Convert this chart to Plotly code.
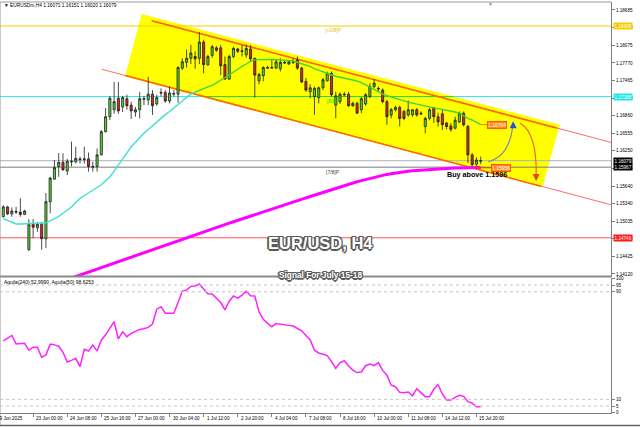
import plotly.graph_objects as go

# ---------------- data (EURUSDm, H4, bars indexed left->right) ----------------
open_ = [1.1511,1.1528,1.1516,1.1520,1.1519,1.1515,1.1454,1.1498,1.1492,1.1498,
         1.1473,1.1537,1.1576,1.1598,1.1605,1.1590,1.1607,1.1606,1.1611,1.1610,
         1.1611,1.1598,1.1598,1.1618,1.1658,1.1684,1.1696,1.1716,1.1701,1.1715,
         1.1704,1.1692,1.1696,1.1714,1.1713,1.1723,1.1706,1.1726,1.1726,1.1711,
         1.1723,1.1723,1.1768,1.1778,1.1785,1.1788,1.1785,1.1813,1.1774,1.1790,
         1.1803,1.1803,1.1774,1.1749,1.1788,1.1801,1.1798,1.1791,1.1801,1.1785,
         1.1746,1.1755,1.1769,1.1768,1.1768,1.1767,1.1778,1.1775,1.1778,1.1782,
         1.1768,1.1745,1.1727,1.1719,1.1717,1.1734,1.1746,1.1759,1.1704,1.1710,
         1.1723,1.1723,1.1703,1.1707,1.1696,1.1706,1.1719,1.1736,1.1733,1.1730,
         1.1710,1.1687,1.1696,1.1700,1.1693,1.1687,1.1687,1.1696,1.1690,1.1667,
         1.1681,1.1699,1.1684,1.1689,1.1673,1.1668,1.1664,1.1675,1.1690,1.1667,
         1.1618,1.1602,1.16071]
high = [1.1531,1.1530,1.1527,1.1528,1.1543,1.1523,1.1507,1.1507,1.1502,1.1502,
        1.1552,1.1580,1.1609,1.1621,1.1621,1.1611,1.1641,1.1632,1.1615,1.1632,
        1.1622,1.1606,1.1629,1.1661,1.1699,1.1720,1.1744,1.1744,1.1720,1.1722,
        1.1710,1.1701,1.1727,1.1720,1.1753,1.1730,1.1722,1.1733,1.1730,1.1736,
        1.1730,1.1771,1.1785,1.1800,1.1808,1.1797,1.1830,1.1817,1.1791,1.1808,
        1.1806,1.1808,1.1788,1.1791,1.1805,1.1803,1.1808,1.1809,1.1808,1.1786,
        1.1760,1.1771,1.1772,1.1782,1.1782,1.1785,1.1782,1.1782,1.1785,1.1788,
        1.1770,1.1751,1.1740,1.1736,1.1736,1.1751,1.1762,1.1762,1.1727,1.1726,
        1.1727,1.1727,1.1710,1.1710,1.1718,1.1725,1.1742,1.1749,1.1736,1.1733,
        1.1713,1.1699,1.1703,1.1703,1.1696,1.1712,1.1697,1.1699,1.1693,1.1684,
        1.1699,1.1701,1.1691,1.1696,1.1675,1.1673,1.1684,1.1693,1.1693,1.1670,
        1.1621,1.1614,1.16151]
low = [1.1510,1.1514,1.1511,1.1516,1.1511,1.1514,1.1452,1.1474,1.1485,1.1454,
       1.1457,1.1517,1.1575,1.1580,1.1591,1.1583,1.1598,1.1603,1.1603,1.1603,
       1.1589,1.1589,1.1589,1.1617,1.1657,1.1678,1.1689,1.1689,1.1692,1.1696,
       1.1680,1.1684,1.1681,1.1704,1.1704,1.1687,1.1703,1.1719,1.1708,1.1707,
       1.1719,1.1708,1.1765,1.1769,1.1775,1.1767,1.1775,1.1759,1.1772,1.1786,
       1.1796,1.1756,1.1748,1.1748,1.1785,1.1794,1.1788,1.1786,1.1779,1.1717,
       1.1740,1.1745,1.1767,1.1767,1.1767,1.1762,1.1775,1.1774,1.1775,1.1765,
       1.1742,1.1727,1.1716,1.1687,1.1707,1.1730,1.1745,1.1719,1.1681,1.1706,
       1.1719,1.1701,1.1701,1.1689,1.1690,1.1703,1.1716,1.1733,1.1727,1.1707,
       1.1670,1.1681,1.1693,1.1667,1.1678,1.1684,1.1684,1.1684,1.1687,1.1655,
       1.1678,1.1673,1.1667,1.1661,1.1662,1.1658,1.1662,1.1673,1.1667,1.1604,
       1.1596,1.1598,1.16020]
close = [1.1528,1.1516,1.1521,1.1519,1.1515,1.1521,1.1498,1.1493,1.1498,1.1473,
         1.1537,1.1578,1.1596,1.1605,1.1592,1.1607,1.1606,1.1612,1.1610,1.1611,
         1.1598,1.1597,1.1618,1.1658,1.1684,1.1716,1.1710,1.1694,1.1717,1.1703,
         1.1694,1.1696,1.1715,1.1715,1.1723,1.1703,1.1717,1.1725,1.1711,1.1725,
         1.1724,1.1769,1.1779,1.1785,1.1794,1.1784,1.1813,1.1774,1.1788,1.1805,
         1.1799,1.1772,1.1749,1.1788,1.1802,1.1797,1.1797,1.1802,1.1784,1.1756,
         1.1757,1.1769,1.1768,1.1769,1.1779,1.1778,1.1777,1.1779,1.1779,1.1768,
         1.1744,1.1730,1.1734,1.1733,1.1734,1.1748,1.1759,1.1722,1.1720,1.1723,
         1.1722,1.1703,1.1707,1.1690,1.1715,1.1722,1.1736,1.1742,1.1732,1.1710,
         1.1684,1.1696,1.1700,1.1681,1.1681,1.1696,1.1696,1.1687,1.1689,1.1681,
         1.1696,1.1684,1.1675,1.1670,1.1667,1.1662,1.1678,1.1690,1.1670,1.1618,
         1.1601,1.1609,1.16079]

ma_fast = [1.15076,1.15045,1.15016,1.14985,1.14985,1.14985,1.14985,1.14992,1.14997,1.15002,
           1.15007,1.15037,1.15076,1.15116,1.15170,1.15222,1.15279,1.15356,1.15429,1.15477,
           1.15526,1.15573,1.15614,1.15662,1.15732,1.15801,1.15898,1.15998,1.16103,1.16214,
           1.16320,1.16403,1.16489,1.16555,1.16617,1.16684,1.16745,1.16809,1.16875,1.16930,
           1.16994,1.17048,1.17117,1.17176,1.17233,1.17264,1.17297,1.17326,1.17354,1.17381,
           1.17423,1.17470,1.17513,1.17561,1.17613,1.17665,1.17710,1.17751,1.17795,1.17822,
           1.17827,1.17833,1.17838,1.17831,1.17826,1.17820,1.17814,1.17808,1.17803,1.17781,
           1.17758,1.17737,1.17705,1.17672,1.17641,1.17613,1.17587,1.17561,1.17540,1.17526,
           1.17513,1.17495,1.17475,1.17454,1.17428,1.17388,1.17345,1.17303,1.17260,1.17229,
           1.17205,1.17181,1.17155,1.17131,1.17112,1.17093,1.17075,1.17056,1.17039,1.17020,
           1.17004,1.16992,1.16980,1.16968,1.16956,1.16939,1.16921,1.16902,1.16857,1.16809,
           1.16783,1.16740,1.16704]
ma_slow = [None]*16 + [
           1.14051,1.14079,1.14103,1.14129,1.14155,1.14179,1.14205,1.14231,1.14257,1.14283,
           1.14309,1.14334,1.14360,1.14386,1.14412,1.14438,1.14464,1.14490,1.14516,1.14542,
           1.14568,1.14594,1.14620,1.14646,1.14672,1.14698,1.14723,1.14749,1.14775,1.14801,
           1.14827,1.14853,1.14879,1.14903,1.14928,1.14952,1.14976,1.15000,1.15024,1.15049,
           1.15073,1.15097,1.15121,1.15145,1.15170,1.15194,1.15218,1.15242,1.15267,1.15291,
           1.15315,1.15339,1.15363,1.15388,1.15412,1.15436,1.15460,1.15484,1.15509,1.15533,
           1.15557,1.15581,1.15605,1.15628,1.15650,1.15673,1.15694,1.15714,1.15735,1.15754,
           1.15773,1.15792,1.15809,1.15827,1.15842,1.15854,1.15867,1.15877,1.15887,1.15896,
           1.15905,1.15911,1.15918,1.15925,1.15930,1.15936,1.15939,1.15943,1.15946,1.15949,
           1.15951,1.15953,1.15955,1.15956,1.15958,1.15959,1.15960]
aquila = [53.5,55.5,57.5,51.2,51.5,51.7,46.5,48.7,48.7,41.3,
          43,51,50.5,49.5,45,37.8,39,40.5,34.3,47.2,
          45.9,50.4,45.9,54,58,63,67.7,54.9,60.3,56.6,
          59,60.5,62,62.5,63.5,66,77,78.9,74,74,
          74,82,90.5,91.2,94,94.3,95.8,92,88.5,88.3,
          85.5,82,76.5,83,86.8,85.2,87.5,90.5,87,86.8,
          75,69.5,66.5,64,66.3,66,65.3,65,64.5,63,
          61,57.5,54.1,46.5,44.5,43.5,42.5,38,33,37.3,
          38.7,34.8,31.8,29.9,30.3,35,36.3,35,37.3,31.5,
          28,20.5,19.4,15.2,14.9,15.5,12.7,17.9,15.2,12,
          12,17.5,21,14,9.6,9.5,11.5,13,12.2,8.3,
          7.2,4.5,4.5]

date_tick_bars = [7,15,23,31,39,47,55,63,71,79,87,95,103,111]
date_tick_labels = ['23 Jun 00:00','24 Jun 08:00','25 Jun 16:00','27 Jun 00:00','30 Jun 04:00',
                    '1 Jul 12:00','2 Jul 20:00','4 Jul 04:00','7 Jul 08:00','8 Jul 16:00',
                    '10 Jul 00:00','11 Jul 08:00','14 Jul 12:00','15 Jul 20:00']
price_ticks = [1.18685,1.18380,1.18075,1.17770,1.17465,1.17160,1.16860,1.16555,1.16250,
               1.15945,1.15640,1.15340,1.15035,1.14730,1.14425,1.14120]
osc_ticks = [0,5,10,90,95,100]

# Murrey levels / price lines
lvl_p18 = 1.18408
lvl_88 = 1.17188
lvl_bid = 1.16079
lvl_78 = 1.15967
lvl_68 = 1.14746
ma_fast_last = 1.16704
buy_level = 1.15956

# channel drawing (bar index, price)
chan_poly = [(32.47,1.18616),(130.56,1.16700),(126.50,1.15623),(28.55,1.17535)]
upper_line = [(34.82,1.18500),(142.57,1.16396)]
upper_in = [(34.82,1.18500),(129.78,1.16645)]
lower_line = [(23.09,1.17660),(142.57,1.15317)]
lower_in = [(28.67,1.17551),(126.10,1.15638)]

x = list(range(len(close)))
XR = [-0.774, 142.57]
YR = [1.14068, 1.18823]

fig = go.Figure()

fig.add_trace(go.Candlestick(
    x=x, open=open_, high=high, low=low, close=close, xaxis='x', yaxis='y',
    increasing=dict(line=dict(color='#1e1e1e', width=0.8), fillcolor='#52d92b'),
    decreasing=dict(line=dict(color='#1e1e1e', width=0.8), fillcolor='#e3222a'),
    whiskerwidth=0, hoverinfo='skip'))

fig.add_trace(go.Scatter(x=x[:46], y=ma_fast[:46], mode='lines',
                         line=dict(color='#3fe0d0', width=1.4), hoverinfo='skip'))
fig.add_trace(go.Scatter(x=x[45:], y=ma_fast[45:], mode='lines',
                         line=dict(color='#3ed43e', width=1.4), hoverinfo='skip'))
fig.add_trace(go.Scatter(x=x, y=ma_slow, mode='lines',
                         line=dict(color='#ff00ff', width=3), hoverinfo='skip'))
fig.add_trace(go.Scatter(x=x, y=aquila, mode='lines', xaxis='x', yaxis='y2',
                         line=dict(color='#ff22ff', width=1.5), hoverinfo='skip'))

shapes = []
path = 'M ' + ' L '.join(f'{a},{b}' for a, b in chan_poly) + ' Z'
shapes.append(dict(type='path', path=path, xref='x', yref='y', fillcolor='#ffff00',
                   line=dict(width=0), layer='below'))

def hline(y, color, width=1, x0=XR[0], x1=XR[1], dash='solid'):
    shapes.append(dict(type='line', xref='x', yref='y', x0=x0, x1=x1, y0=y, y1=y,
                       line=dict(color=color, width=width, dash=dash), layer='below'))

hline(lvl_p18, '#f2cf00')
hline(lvl_88, '#33e6e6')
hline(lvl_88, '#33d633', x0=46.35, x1=105.6)
hline(lvl_bid, '#aab2bc')
hline(lvl_78, '#7a7a7a')
hline(lvl_68, '#ff5050')

for seg, col, w in [(upper_line, '#ff6b6b', 1), (lower_line, '#ff6b6b', 1),
                    (upper_in, '#ff6a00', 1.6), (lower_in, '#ff6a00', 1.6)]:
    (a0, b0), (a1, b1) = seg
    shapes.append(dict(type='line', xref='x', yref='y', x0=a0, y0=b0, x1=a1, y1=b1,
                       line=dict(color=col, width=w), layer='below'))

# connectors to the orange price tags
shapes.append(dict(type='line', xref='x', yref='y', x0=112, x1=113.6, y0=ma_fast_last, y1=ma_fast_last,
                   line=dict(color='#ff7a00', width=1)))
shapes.append(dict(type='line', xref='x', yref='y', x0=110.5, x1=114.4, y0=buy_level, y1=buy_level,
                   line=dict(color='#e04000', width=1)))

# curved arrows
shapes.append(dict(type='path', xref='x', yref='y',
                   path='M 113.8,1.16062 C 117.23,1.16126 119.11,1.16351 119.57,1.16714',
                   line=dict(color='#7d8a99', width=1.2)))
shapes.append(dict(type='path', xref='x', yref='y',
                   path='M 121.22,1.16731 C 124.03,1.16610 125.2,1.16264 125.0,1.15790',
                   line=dict(color='#ee5a3a', width=1.1)))

# pane borders / separator (paper coords; plot area 411 px high, top at 2 px)
def py(p):
    return (413 - p) / 411.0
shapes.append(dict(type='line', xref='paper', yref='paper', x0=0, x1=1, y0=py(276.5), y1=py(276.5),
                   line=dict(color='#8a8a8a', width=2.2)))
shapes.append(dict(type='line', xref='paper', yref='paper', x0=0, x1=1, y0=1, y1=1,
                   line=dict(color='#9a9a9a', width=1)))
shapes.append(dict(type='line', xref='paper', yref='paper', x0=0, x1=0, y0=py(426), y1=1,
                   line=dict(color='#9a9a9a', width=1)))
shapes.append(dict(type='line', xref='paper', yref='paper', x0=0, x1=1.05, y0=py(425.5), y1=py(425.5),
                   line=dict(color='#666666', width=1.5)))
for lv in [5, 10, 90, 95]:
    shapes.append(dict(type='line', xref='paper', yref='y2', x0=0, x1=1, y0=lv, y1=lv,
                       line=dict(color='#c4c4c4', width=1, dash='dot')))

ann = []
FONT = 'Liberation Sans, Arial, sans-serif'

def txt(xv, yv, s, size=5, color='black', xref='x', yref='y', xanchor='left', yanchor='middle', **kw):
    ann.append(dict(x=xv, y=yv, xref=xref, yref=yref, text=s, showarrow=False,
                    xanchor=xanchor, yanchor=yanchor,
                    font=dict(family=FONT, size=size, color=color), **kw))

txt(75.0, 1.18339, '[+1/8]P', color='#e0c400')
txt(75.5, 1.17112, '[8/8]P', color='#22cc22')
txt(75.2, 1.15892, '[7/8]P', color='#444444')
txt(111.1, 1.15841, '<b>Buy above 1.1596</b>', size=7.2, xanchor='center')

# orange price tags
for xv, yv, s in [(113.5, ma_fast_last, '1.16704'), (114.3, buy_level, '1.15956')]:
    ann.append(dict(x=xv, y=yv, xref='x', yref='y', text=s, showarrow=False, xanchor='left',
                    yanchor='middle', font=dict(family=FONT, size=5, color='white'),
                    bgcolor='#ff8a1c', bordercolor='#ff5a00', borderwidth=1, borderpad=0))

# arrowheads
ann.append(dict(x=119.62, y=1.16762, xref='x', yref='y', ax=0, ay=7, showarrow=True,
                arrowhead=2, arrowsize=1, arrowwidth=1.4, arrowcolor='#2a4fd0', text=''))
ann.append(dict(x=125.0, y=1.15728, xref='x', yref='y', ax=0, ay=-7, showarrow=True,
                arrowhead=2, arrowsize=1, arrowwidth=1.4, arrowcolor='#ee4030', text=''))

# outlined titles
def outlined(xv, yv, s, size, xref='x', yref='y'):
    for dx, dy in [(-1,-1),(1,-1),(-1,1),(1,1),(0,1.3),(0,-1.3),(1.3,0),(-1.3,0)]:
        ann.append(dict(x=xv, y=yv, xref=xref, yref=yref, text=s, showarrow=False,
                        xanchor='center', yanchor='middle', xshift=dx, yshift=dy,
                        font=dict(family=FONT, size=size, color='#5a5a5a')))
    ann.append(dict(x=xv, y=yv, xref=xref, yref=yref, text=s, showarrow=False,
                    xanchor='center', yanchor='middle',
                    font=dict(family=FONT, size=size, color='white')))

outlined(74.3, 1.14648, '<b>EUR/USD, H4</b>', 16.5)
outlined(320/611, py(275.2), '<b>Signal For July 15-18</b>', 8.3, xref='paper', yref='paper')

# header texts
txt(0, py(5.2), '▼ EURUSDm,H4 1.16071 1.16151 1.16020 1.16079', size=4.8,
    xref='paper', yref='paper', xshift=2)
txt(0, py(282.4), 'Aquila(240) 52.9990  Aquila(50) 98.6253', size=5,
    xref='paper', yref='paper', xshift=2)
txt(490/611, py(3.5), '▼', size=5, color='#8090a0', xref='paper', yref='paper', xanchor='center')

# right-axis coloured price boxes
for yv, s, bg in [(lvl_p18, '1.18408', '#f5cc00'), (lvl_88, '1.17188', '#22e5e5'),
                  (lvl_bid, '1.16079', '#000000'), (lvl_78, '1.15967', '#000000'),
                  (lvl_68, '1.14746', '#ff1a1a')]:
    ann.append(dict(x=1, y=yv, xref='paper', yref='y', text=s, showarrow=False, xanchor='left',
                    yanchor='middle', xshift=2, font=dict(family=FONT, size=4.6, color='white'),
                    bgcolor=bg, borderpad=0.6))

# date labels (left-aligned after tick, MT4 style)
for b, s in zip(date_tick_bars, date_tick_labels):
    txt(b, py(418.5), s, size=4.6, yref='paper', xshift=1)
txt(25/611, py(418.5), '19 Jun 2025', size=4.6, xref='paper', yref='paper', xanchor='right')

fig.update_layout(
    width=640, height=427, margin=dict(l=0, r=29, t=2, b=14, autoexpand=False),
    paper_bgcolor='white', plot_bgcolor='white', showlegend=False,
    font=dict(family=FONT, size=5, color='black'),
    shapes=shapes, annotations=ann,
    xaxis=dict(domain=[0, 1], range=XR, anchor='y2', showgrid=False, zeroline=False,
               showline=True, linecolor='#808080', linewidth=1, ticks='outside', ticklen=3,
               tickcolor='#808080', tickvals=date_tick_bars, showticklabels=False,
               rangeslider=dict(visible=False), fixedrange=True, automargin=False),
    yaxis=dict(domain=[py(277), 1], range=YR, side='right', anchor='x', showgrid=False,
               zeroline=False, showline=True, linecolor='#808080', ticks='outside', ticklen=3,
               tickcolor='#808080', tickvals=price_ticks,
               ticktext=[f'{v:.5f}' for v in price_ticks],
               tickfont=dict(size=4.6, color='black'), fixedrange=True, automargin=False),
    yaxis2=dict(domain=[0, py(278)], range=[-0.15, 100.22], side='right', anchor='x',
                showgrid=False, zeroline=False, showline=True, linecolor='#808080',
                ticks='outside', ticklen=3, tickcolor='#808080', tickvals=osc_ticks,
                ticktext=[str(v) for v in osc_ticks],
                tickfont=dict(size=4.6, color='black'), fixedrange=True, automargin=False),
)

fig.write_html('out.html', config={'displayModeBar': False, 'staticPlot': True},
               post_script="document.body.style.margin='0';document.body.style.overflow='hidden';")
